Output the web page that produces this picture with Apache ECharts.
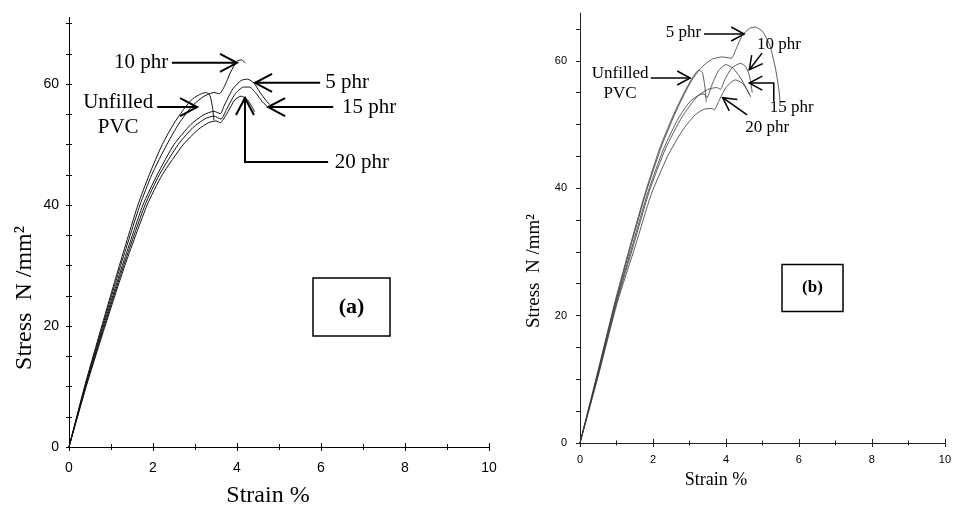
<!DOCTYPE html>
<html><head><meta charset="utf-8">
<script src="https://cdn.jsdelivr.net/npm/echarts@6/dist/echarts.min.js"></script>
<style>html,body{margin:0;padding:0;background:#fff}#c{width:954px;height:510px}</style>
</head><body><div id="c"></div>
<script>
// ---------- Panel (a): strain (%) vs stress (N/mm2) ----------
const aUnfilledX = [0,0.37,0.78,1.2,1.64,1.91,2.22,2.5,2.75,2.95,3.15,3.28,3.36,3.42,3.45];
const aUnfilledY = [0,10,20,30,40,45,50,53.5,56,57.6,58.4,58.6,58.0,56.0,54.0];
const a10X = [0,0.38,0.8,1.23,1.69,1.97,2.33,2.62,2.95,3.22,3.45,3.58,3.7,3.85,4.0,4.1,4.2];
const a10Y = [0,10,20,30,40,45,50,53.5,56.5,58.0,58.6,58.4,59.6,62,63.8,64.0,63.5];
const a5X = [0,0.39,0.82,1.27,1.76,2.1,2.5,2.9,3.2,3.45,3.6,3.7,3.9,4.1,4.25,4.4,4.55,4.7,4.78];
const a5Y = [0,10,20,30,40,45,50,53.3,54.9,55.5,55.1,56.5,59.2,60.6,60.8,60.2,58.6,57.2,56.6];
const a15X = [0,0.4,0.84,1.3,1.81,2.15,2.6,2.95,3.25,3.45,3.62,3.75,3.95,4.15,4.3,4.45,4.6,4.72];
const a15Y = [0,10,20,30,40,45,50,52.8,54.3,54.7,54.2,55.8,58.3,59.5,59.5,58.5,57.1,56.3];
const a20X = [0,0.41,0.86,1.33,1.86,2.22,2.72,3.08,3.32,3.5,3.6,3.75,3.95,4.1,4.25,4.35,4.42];
const a20Y = [0,10,20,30,40,45,50,52.5,53.6,53.9,53.6,55.0,57.4,58.0,57.4,56.3,55.4];

// ---------- Panel (b) ----------
const bUnfilledX = [0,0.5,0.95,1.4,1.8,2.2,2.6,2.9,3.1,3.25,3.35,3.42,3.46];
const bUnfilledY = [0,11.5,22,31.5,39.5,46.5,52,55.5,57.5,58.5,58.2,56,53.5];
const b5X = [0,0.5,0.97,1.42,1.82,2.25,2.65,3.0,3.3,3.6,3.9,4.15,4.25,4.45,4.65,4.8,5.0,5.2,5.35,5.45,5.48];
const b5Y = [0,11.3,22,31.5,39.5,46.8,52.3,56.3,58.8,60.2,60.6,60.4,61.5,64,65.1,65.3,64.6,62.5,59,55.5,53.7];
const b15X = [0,0.5,0.98,1.45,1.87,2.3,2.7,3.0,3.25,3.4,3.48,3.6,3.8,4.0,4.2,4.4,4.55,4.65];
const b15Y = [0,11,22,31.3,39.5,46.3,51,53.5,54.6,54.8,54.2,56,58.5,59.4,58.8,57.3,55.8,54.6];
const b10X = [0,0.5,1.0,1.48,1.9,2.35,2.8,3.2,3.5,3.75,3.85,3.95,4.15,4.4,4.55,4.65,4.72];
const b10Y = [0,10.8,22,31.3,39.5,46.3,51.2,54.3,55.5,55.8,55.5,56.8,58.8,59.6,59,57.5,55];
const b20X = [0,0.5,1.02,1.52,1.95,2.4,2.8,3.15,3.4,3.62,3.68,3.8,4.0,4.25,4.45,4.6,4.68];
const b20Y = [0,10.5,22,31,39,45,49,51.5,52.4,52.5,52.3,53.6,55.8,57,56.5,55.2,54.3];

// ---------- Ticks / labels ----------
const xMajorTicks = [0,2,4,6,8,10];
const xMinorTicks = [1,3,5,7,9];
const xTickLabels = [0,2,4,6,8,10];
const aYTicks = [0,5,10,15,20,25,30,35,40,45,50,55,60,65,70];
const bYTicks = [0,5,10,15,20,25,30,35,40,45,50,55,60,65];
const yTickLabels = [0,20,40,60];

// ---------- Annotations (data coordinates) ----------
const annA = [
  {label:'10 phr', at:[2.36,63.5], align:'right', path:[[2.45,63.5],[4.0,63.5]]},
  {label:'5 phr', at:[6.1,60.2], align:'left', path:[[5.98,60.2],[4.43,60.2]]},
  {label:'Unfilled\nPVC', at:[1.17,54.95], align:'center', path:[[2.1,56.2],[3.05,56.2]]},
  {label:'15 phr', at:[6.5,56.2], align:'left', path:[[6.29,56.2],[4.74,56.2]]},
  {label:'20 phr', at:[6.33,47.1], align:'left', path:[[6.17,47.1],[4.19,47.1],[4.19,57.7]]}
];
const annB = [
  {label:'5 phr', at:[3.32,64.4], align:'right', path:[[3.4,64.2],[4.5,64.2]]},
  {label:'10 phr', at:[4.85,62.5], align:'left', path:[[4.99,61.2],[4.64,58.6]]},
  {label:'Unfilled\nPVC', at:[1.1,56.5], align:'center', path:[[1.94,57.3],[3.02,57.3]]},
  {label:'15 phr', at:[5.2,52.6], align:'left', path:[[5.31,53.7],[5.31,56.5],[4.64,56.5]]},
  {label:'20 phr', at:[4.53,49.5], align:'left', path:[[4.58,51.5],[3.91,54.2]]}
];

const chart = echarts.init(document.getElementById('c'), null, {renderer:'canvas'});
const SANS = 'Liberation Sans', SERIF = 'Liberation Serif';

function xAxes(gi, majLen, minLen, fs, margin, color) {
  const base = {type:'value', gridIndex:gi, min:0, max:10, position:'bottom', splitLine:{show:false}};
  const ls = {color:color, width:1};
  return [
    Object.assign({}, base, {axisLine:{show:true, onZero:false, lineStyle:ls},
      axisTick:{show:true, inside:false, length:majLen, customValues:xMajorTicks, lineStyle:ls},
      axisLabel:{show:true, customValues:xTickLabels, margin:margin, fontSize:fs, fontFamily:SANS, color:'#000'}}),
    Object.assign({}, base, {axisLine:{show:false}, axisTick:{show:true, inside:true, length:majLen, customValues:xMajorTicks, lineStyle:ls}, axisLabel:{show:false}}),
    Object.assign({}, base, {axisLine:{show:false}, axisTick:{show:true, inside:false, length:minLen, customValues:xMinorTicks, lineStyle:ls}, axisLabel:{show:false}}),
    Object.assign({}, base, {axisLine:{show:false}, axisTick:{show:true, inside:true, length:minLen, customValues:xMinorTicks, lineStyle:ls}, axisLabel:{show:false}})
  ];
}
function yAxes(gi, max, ticks, outLen, inLen, fs, margin, color) {
  const base = {type:'value', gridIndex:gi, min:0, max:max, position:'left', splitLine:{show:false}};
  const ls = {color:color, width:1};
  return [
    Object.assign({}, base, {axisLine:{show:true, onZero:false, lineStyle:ls},
      axisTick:{show:true, inside:false, length:outLen, customValues:ticks, lineStyle:ls},
      axisLabel:{show:true, customValues:yTickLabels, margin:margin, fontSize:fs, fontFamily:SANS, color:'#000'}}),
    Object.assign({}, base, {axisLine:{show:false}, axisTick:{show:true, inside:true, length:inLen, customValues:ticks, lineStyle:ls}, axisLabel:{show:false}})
  ];
}
function zip(xs, ys){ return xs.map((x,i)=>[x, ys[i]]); }
function line(xi, yi, xs, ys, color, w) {
  return {type:'line', xAxisIndex:xi, yAxisIndex:yi, data:zip(xs,ys), showSymbol:false, symbol:'none',
    smooth:0.2, lineStyle:{color:color, width:w}, silent:true, animation:false, z:3};
}

const option = {
  animation:false,
  backgroundColor:'#fff',
  grid:[
    {left:69, top:17.5, width:420, height:429.5, containLabel:false},
    {left:580, top:13, width:371, height:430, containLabel:false}
  ],
  xAxis: xAxes(0, 4, 3, 14, 14, '#000').concat(xAxes(1, 4, 2.5, 11, 11, '#222')),
  yAxis: yAxes(0, 71, aYTicks, 3, 3, 14, 10, '#000').concat(yAxes(1, 67.5, bYTicks, 4, 1, 11, 13, '#222')),
  series:[
    line(0,0,aUnfilledX,aUnfilledY,'#111',1),
    line(0,0,a10X,a10Y,'#111',1),
    line(0,0,a5X,a5Y,'#111',1),
    line(0,0,a15X,a15Y,'#111',1),
    line(0,0,a20X,a20Y,'#111',1),
    line(4,2,bUnfilledX,bUnfilledY,'#333',0.8),
    line(4,2,b5X,b5Y,'#333',0.8),
    line(4,2,b15X,b15Y,'#333',0.8),
    line(4,2,b10X,b10Y,'#333',0.8),
    line(4,2,b20X,b20Y,'#333',0.8)
  ]
};
chart.setOption(option);

function buildAnn(list, xi, yi, font, lh, lw, headL, headW) {
  const els = [];
  list.forEach(a => {
    const pts = a.path.map(p => chart.convertToPixel({xAxisIndex:xi, yAxisIndex:yi}, p));
    els.push({type:'polyline', shape:{points:pts}, style:{stroke:'#000', lineWidth:lw, fill:null}, z:10});
    const h = pts[pts.length-1], p = pts[pts.length-2];
    let dx = h[0]-p[0], dy = h[1]-p[1]; const L = Math.hypot(dx,dy); dx/=L; dy/=L;
    const nx = -dy, ny = dx;
    els.push({type:'polyline', shape:{points:[[h[0]-headL*dx+headW*nx, h[1]-headL*dy+headW*ny],[h[0],h[1]],[h[0]-headL*dx-headW*nx, h[1]-headL*dy-headW*ny]]},
      style:{stroke:'#000', lineWidth:lw, fill:null}, z:10});
    const t = chart.convertToPixel({xAxisIndex:xi, yAxisIndex:yi}, a.at);
    els.push({type:'text', x:t[0], y:t[1], style:{text:a.label, font:font, fill:'#000', align:a.align, verticalAlign:'middle', lineHeight:lh}, z:10});
  });
  return els;
}
const graphics = []
  .concat(buildAnn(annA, 0, 0, '21px "Liberation Serif"', 25, 2, 17, 9))
  .concat(buildAnn(annB, 4, 2, '17px "Liberation Serif"', 20, 1.5, 13, 7))
  .concat([
    {type:'text', x:268, y:496, style:{text:'Strain %', font:'24px "Liberation Serif"', fill:'#000', align:'center', verticalAlign:'middle'}},
    {type:'text', x:25, y:298, rotation:Math.PI/2, style:{text:'Stress  N /mm²', font:'24px "Liberation Serif"', fill:'#000', align:'center', verticalAlign:'middle'}},
    {type:'text', x:716, y:480, style:{text:'Strain %', font:'18px "Liberation Serif"', fill:'#000', align:'center', verticalAlign:'middle'}},
    {type:'text', x:534, y:271, rotation:Math.PI/2, style:{text:'Stress  N /mm²', font:'19px "Liberation Serif"', fill:'#000', align:'center', verticalAlign:'middle'}},
    {type:'rect', shape:{x:313, y:278, width:77, height:58}, style:{stroke:'#000', lineWidth:1.5, fill:'#fff'}},
    {type:'text', x:351.5, y:307, style:{text:'(a)', font:'bold 22px "Liberation Serif"', fill:'#000', align:'center', verticalAlign:'middle'}},
    {type:'rect', shape:{x:782, y:264.5, width:61, height:47}, style:{stroke:'#000', lineWidth:1.5, fill:'#fff'}},
    {type:'text', x:812.5, y:288, style:{text:'(b)', font:'bold 17px "Liberation Serif"', fill:'#000', align:'center', verticalAlign:'middle'}}
  ]);
chart.setOption({graphic: graphics});
</script></body></html>
